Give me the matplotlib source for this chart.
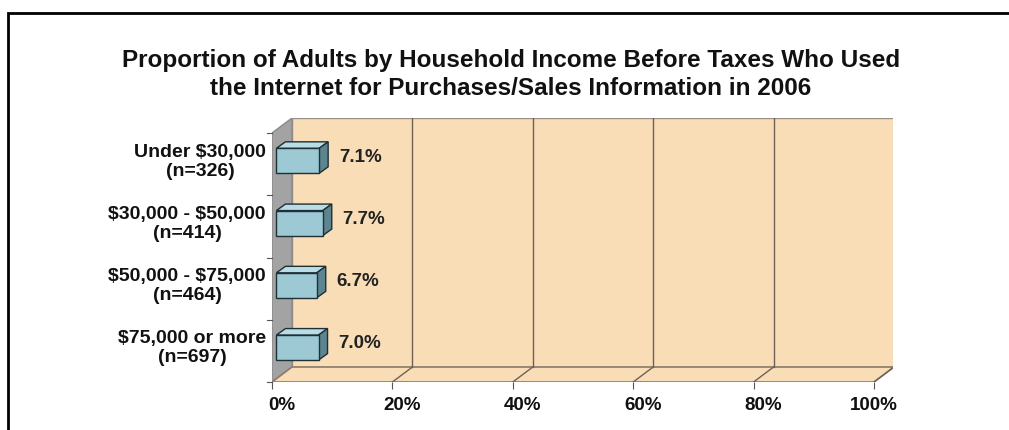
import numpy as np
import matplotlib.pyplot as plt
from matplotlib.patches import Polygon, Rectangle
from matplotlib.transforms import ScaledTranslation

plt.rcParams['font.family'] = ['Liberation Sans', 'DejaVu Sans']
plt.rcParams['text.parse_math'] = False

# data
categories = ['Under $30,000\n(n=326)', '$30,000 - $50,000\n(n=414)',
              '$50,000 - $75,000\n(n=464)', '$75,000 or more\n(n=697)']
values = [7.1, 7.7, 6.7, 7.0]
ticks = [0, 20, 40, 60, 80, 100]
tick_labels = ['0%', '20%', '40%', '60%', '80%', '100%']
title = ('Proportion of Adults by Household Income Before Taxes Who Used\n'
         'the Internet for Purchases/Sales Information in 2006')

# colours
wall = '#F8DDB7'
side_wall = '#A3A3A3'
grid_col = '#6E6257'
bar_front = '#9CC9D3'
bar_top = '#B8DDE5'
bar_side = '#5D8590'
bar_edge = '#1E2F36'

fig = plt.figure(figsize=(10.09, 4.30), dpi=100)
W, H = 1009, 430
ax = fig.add_axes([272 / W, 1 - 382 / H, (893 - 272) / W, (382 - 118) / H])

px_x = 6.02    # pixels per percent
px_y = 62.25   # pixels per category
xmax = (893 - 272) / px_x
y_front = 3.5
y_top_back = -0.5 - 15 / px_y
ax.set_xlim(0, xmax)
ax.set_ylim(y_front, y_top_back)

# 3d depth in data units
dx = 20 / px_x
dy = 15 / px_y
y_floor_back = y_front - dy

# back wall
ax.add_patch(Polygon([(dx, y_top_back), (100 + dx, y_top_back),
                      (100 + dx, y_floor_back), (dx, y_floor_back)],
                     closed=True, facecolor=wall, edgecolor='#9A9088', lw=1, zorder=1))
# left side wall
ax.add_patch(Polygon([(0, -0.5), (dx, y_top_back),
                      (dx, y_floor_back), (0, y_front)],
                     closed=True, facecolor=side_wall, edgecolor='#8A8A8A', lw=1, zorder=1))
# floor
ax.add_patch(Polygon([(0, y_front), (100, y_front),
                      (100 + dx, y_floor_back), (dx, y_floor_back)],
                     closed=True, facecolor=wall, edgecolor='#8C7B68', lw=1.2, zorder=1))

# gridlines on the wall and floor
for t in ticks[1:]:
    ax.plot([t + dx, t + dx], [y_top_back, y_floor_back], color=grid_col, lw=1, zorder=2)
    ax.plot([t, t + dx], [y_front, y_floor_back], color=grid_col, lw=1, zorder=2)

# y-axis tick marks at category boundaries
for k in range(len(categories) + 1):
    yb = k - 0.5
    ax.plot([-0.8, 0], [yb, yb], color='#555555', lw=0.8, clip_on=False, zorder=2)

# bars
pos = np.arange(len(values))
h = 25 / px_y
depth = 0.22
off = depth * dx
pos_b = pos - depth * dy
bdx = 9 / px_x
bdy = 6.5 / px_y
ax.barh(pos_b, values, height=h, left=off, color=bar_front, edgecolor=bar_edge,
        lw=1, zorder=4)
for i, v in enumerate(values):
    x0, x1 = off, off + v
    yt, yb = pos_b[i] - h / 2, pos_b[i] + h / 2
    ax.add_patch(Polygon([(x0, yt), (x1, yt), (x1 + bdx, yt - bdy), (x0 + bdx, yt - bdy)],
                         closed=True, facecolor=bar_top, edgecolor=bar_edge, lw=1, zorder=3))
    ax.add_patch(Polygon([(x1, yt), (x1 + bdx, yt - bdy), (x1 + bdx, yb - bdy), (x1, yb)],
                         closed=True, facecolor=bar_side, edgecolor=bar_edge, lw=1, zorder=3))
    ax.text(x1 + bdx + 1.8, pos_b[i] - 0.06, f'{v:.1f}%', ha='left', va='center',
            fontsize=13.5, fontweight='bold', color='#222222', zorder=5)

# category labels
for i, c in enumerate(categories):
    ax.text(-1.0, i - 0.04, c, ha='right', va='center', multialignment='center',
            fontsize=14, fontweight='bold', color='#111111', clip_on=False,
            linespacing=1.15)

# x ticks
ax.set_xticks(ticks)
ax.set_xticklabels(tick_labels, fontsize=13.5, fontweight='bold', color='#111111')
ax.tick_params(axis='x', length=5, width=0.8, color='#555555', pad=6)
for k, lbl in enumerate(ax.get_xticklabels()):
    sh = 10 if k < len(ticks) - 1 else 0
    lbl.set_transform(lbl.get_transform() + ScaledTranslation(sh / 100, 0, fig.dpi_scale_trans))
ax.set_yticks([])
for s in ax.spines.values():
    s.set_visible(False)
ax.patch.set_alpha(0)

fig.text(511 / W, 1 - 74.5 / H, title, ha='center', va='center', fontsize=17.5,
         fontweight='bold', color='#111111', linespacing=1.32)

# outer frame (cut off on the right and bottom)
fig.add_artist(Rectangle((8 / W, -0.1), 1.1, 1 - 13 / H + 0.1, transform=fig.transFigure,
                         fill=False, edgecolor='black', lw=2))

fig.savefig('out.png', dpi=100)
